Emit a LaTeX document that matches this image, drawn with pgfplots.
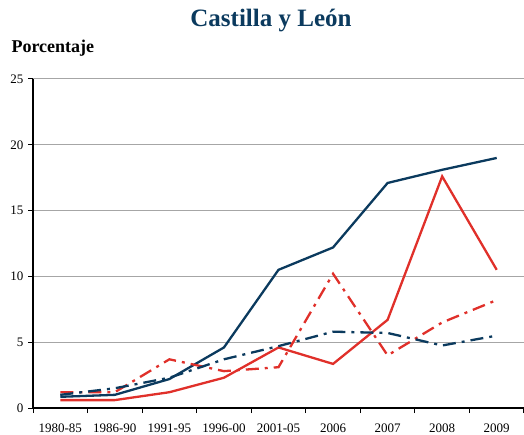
\documentclass[border=0pt]{standalone}
\usepackage{pgfplots}
\pgfplotsset{compat=1.18}
\usepackage{fontspec}
\setmainfont{Liberation Serif}
\definecolor{navy}{HTML}{0B3A5E}
\definecolor{cred}{HTML}{E0302A}
\begin{document}
\begin{tikzpicture}
\begin{axis}[
  at={(33bp,27bp)}, anchor=south west,
  scale only axis, width=491bp, height=329bp,
  xmin=-0.5, xmax=8.5, ymin=0, ymax=25,
  xtick={-0.5,0.5,...,8.5},
  x tick label as interval,
  xticklabels={1980-85,1986-90,1991-95,1996-00,2001-05,2006,2007,2008,2009},
  ytick={0,5,...,25},
  axis x line*=bottom, axis y line*=left,
  axis line style={black, line width=1.6bp, -},
  tick style={black, line width=1bp},
  tick align=outside, major tick length=5bp,
  ymajorgrids, grid style={gray!70, line width=1bp},
  ticklabel style={font=\fontsize{13bp}{15bp}\selectfont},
  /pgf/number format/assume math mode=true,
  xticklabel style={yshift=-7bp},
  yticklabel style={xshift=-1bp},
  every axis plot/.append style={line width=2.3bp},
  clip=false,
]
\addplot[navy] coordinates {(0,0.85)(1,1.0)(2,2.2)(3,4.6)(4,10.5)(5,12.2)(6,17.1)(7,18.1)(8,19.0)};
\addplot[cred] coordinates {(0,0.6)(1,0.6)(2,1.2)(3,2.3)(4,4.6)(5,3.35)(6,6.7)(7,17.6)(8,10.5)};
\addplot[cred, dash pattern=on 13bp off 6bp on 3bp off 6bp] coordinates {(0,1.2)(1,1.2)(2,3.7)(3,2.8)(4,3.1)(5,10.2)(6,4.0)(7,6.5)(8,8.2)};
\addplot[navy, dash pattern=on 13bp off 6bp on 3bp off 6bp] coordinates {(0,1.0)(1,1.5)(2,2.3)(3,3.7)(4,4.7)(5,5.8)(6,5.7)(7,4.75)(8,5.5)};
\end{axis}
\node[font=\bfseries\fontsize{25bp}{28bp}\selectfont, text=navy] at (271bp,414bp) {Castilla y León};
\node[font=\bfseries\fontsize{18bp}{20bp}\selectfont, anchor=west] at (8bp,387bp) {Porcentaje};
\pgfresetboundingbox
\path[use as bounding box] (0,0) rectangle (524bp,435bp);
\end{tikzpicture}
\end{document}
